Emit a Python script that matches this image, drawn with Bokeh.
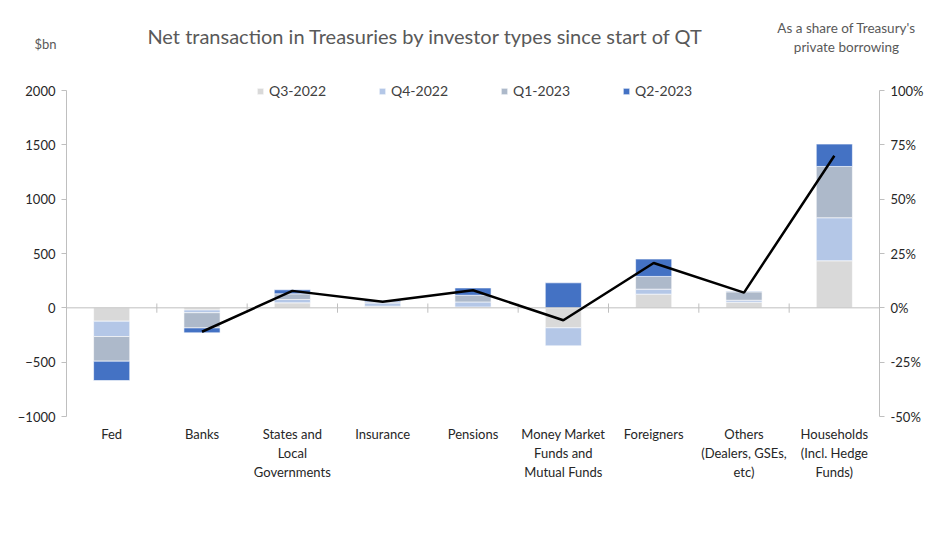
import numpy as np
from bokeh.plotting import figure
from bokeh.models import (Range1d, LinearAxis, FixedTicker, NumeralTickFormatter,
                          ColumnDataSource, Legend, LegendItem, Label)
from bokeh.embed import file_html
from bokeh.resources import INLINE

categories = ["Fed", "Banks", "States and\nLocal\nGovernments", "Insurance", "Pensions",
              "Money Market\nFunds and\nMutual Funds", "Foreigners",
              "Others\n(Dealers, GSEs,\netc)", "Households\n(Incl. Hedge\nFunds)"]
series_names = ["Q3-2022", "Q4-2022", "Q1-2023", "Q2-2023"]
q3_2022 = [-123, -20, 46, 15, 8, -184, 126, 52, 433]
q4_2022 = [-141, -25, 31, 30, 46, -166, 46, 18, 396]
q1_2023 = [-227, -140, 52, 10, 62, 0, 117, 77, 472]
q2_2023 = [-178, -45, 37, 10, 67, 230, 160, 5, 206]
share_of_borrowing = [np.nan, -0.11, 0.078, 0.028, 0.081, -0.057, 0.206, 0.07, 0.70]
y_ticks = [-1000, -500, 0, 500, 1000, 1500, 2000]
pct_ticks = [-0.5, -0.25, 0, 0.25, 0.5, 0.75, 1.0]
colors = ["#D9D9D9", "#B4C7E7", "#ADB9CA", "#4472C4"]

FONT = "Lato"
W, H = 940, 540
# plot-area pixel box (page coordinates) the axes should occupy
PX_L, PX_R, PX_T, PX_B = 66, 879, 90, 416
n = len(categories)
xs0, xs1 = -0.5, n - 0.5
ppx = (PX_R - PX_L) / (xs1 - xs0)
x_start = xs0 - PX_L / ppx
x_end = xs1 + (W - PX_R) / ppx
y0, y1 = y_ticks[0], y_ticks[-1]
ppy = (PX_B - PX_T) / (y1 - y0)
y_start = y0 - (H - PX_B) / ppy
y_end = y1 + PX_T / ppy
r0, r1 = pct_ticks[0], pct_ticks[-1]
ppr = (PX_B - PX_T) / (r1 - r0)
r_start = r0 - (H - PX_B) / ppr
r_end = r1 + PX_T / ppr

p = figure(width=W, height=H, output_backend="svg", toolbar_location=None,
           x_range=Range1d(x_start, x_end), y_range=Range1d(y_start, y_end),
           x_axis_location=None, y_axis_location=None,
           min_border_left=0, min_border_right=0, min_border_top=0, min_border_bottom=0)
p.outline_line_color = None
p.xgrid.visible = False
p.ygrid.visible = False
p.background_fill_color = "white"
p.border_fill_color = "white"
p.extra_y_ranges = {"pct": Range1d(r_start, r_end)}

xs = np.arange(n)
all_series = [q3_2022, q4_2022, q1_2023, q2_2023]
pos_base = np.zeros(n)
neg_base = np.zeros(n)
renderers = []
for vals, col in zip(all_series, colors):
    v = np.array(vals, dtype=float)
    bottom = np.where(v >= 0, pos_base, neg_base)
    top = bottom + v
    pos_base = np.where(v >= 0, top, pos_base)
    neg_base = np.where(v < 0, top, neg_base)
    src = ColumnDataSource(dict(x=xs, top=top, bottom=bottom))
    r = p.vbar(x="x", top="top", bottom="bottom", width=0.4, source=src,
               fill_color=col, line_color="white", line_width=0.6)
    renderers.append(r)

# zero axis line with category separators
bounds = np.arange(n + 1) - 0.5
p.segment(x0=[xs0], y0=[0], x1=[xs1], y1=[0], line_color="#BFBFBF", line_width=1)
p.segment(x0=bounds, y0=np.full(len(bounds), 40.0), x1=bounds, y1=np.full(len(bounds), -45.0),
          line_color="#BFBFBF", line_width=1)

p.line(x=xs, y=share_of_borrowing, y_range_name="pct", line_color="black", line_width=2.5)


def style_axis(ax):
    ax.axis_line_color = "#BFBFBF"
    ax.major_tick_line_color = "#BFBFBF"
    ax.major_tick_out = 5
    ax.major_tick_in = 0
    ax.minor_tick_line_color = None
    ax.major_label_text_font = FONT
    ax.major_label_text_font_size = "13px"
    ax.major_label_text_color = "#262626"
    ax.major_label_standoff = 6


lax = LinearAxis(ticker=FixedTicker(ticks=y_ticks), fixed_location=xs0, bounds=(y0, y1))
style_axis(lax)
p.add_layout(lax, "left")

rax = LinearAxis(y_range_name="pct", ticker=FixedTicker(ticks=pct_ticks),
                 formatter=NumeralTickFormatter(format="0%"), fixed_location=xs1, bounds=(r0, r1))
style_axis(rax)
p.add_layout(rax, "right")

xax = LinearAxis(ticker=FixedTicker(ticks=list(xs)), fixed_location=y0)
style_axis(xax)
xax.major_label_overrides = {int(i): c for i, c in zip(xs, categories)}
xax.axis_line_color = None
xax.major_tick_line_color = None
xax.major_label_standoff = 4
p.add_layout(xax, "below")

legend = Legend(items=[LegendItem(label=nm, renderers=[r]) for nm, r in zip(series_names, renderers)],
                orientation="horizontal", location=(256, H - 99), padding=0, margin=0,
                spacing=52, glyph_width=8, glyph_height=8, label_standoff=5,
                label_text_font=FONT, label_text_font_size="14px", label_text_color="#404040",
                border_line_color=None, background_fill_alpha=0)
p.add_layout(legend, "center")

p.add_layout(Label(x=425, y=H - 35, x_units="screen", y_units="screen", text_align="center",
                   text_baseline="middle",
                   text="Net transaction in Treasuries by investor types since start of QT",
                   text_font=FONT, text_font_size="20px", text_color="#595959"))
p.add_layout(Label(x=45, y=H - 43, x_units="screen", y_units="screen", text_align="center",
                   text_baseline="middle", text="$bn", text_font=FONT, text_font_size="13px",
                   text_color="#595959"))
p.add_layout(Label(x=846, y=H - 27, x_units="screen", y_units="screen", text_align="center",
                   text_baseline="middle", text="As a share of Treasury's", text_font=FONT,
                   text_font_size="13.5px", text_color="#595959"))
p.add_layout(Label(x=846, y=H - 46, x_units="screen", y_units="screen", text_align="center",
                   text_baseline="middle", text="private borrowing", text_font=FONT,
                   text_font_size="13.5px", text_color="#595959"))

open("out.html", "w").write(file_html(p, INLINE))
